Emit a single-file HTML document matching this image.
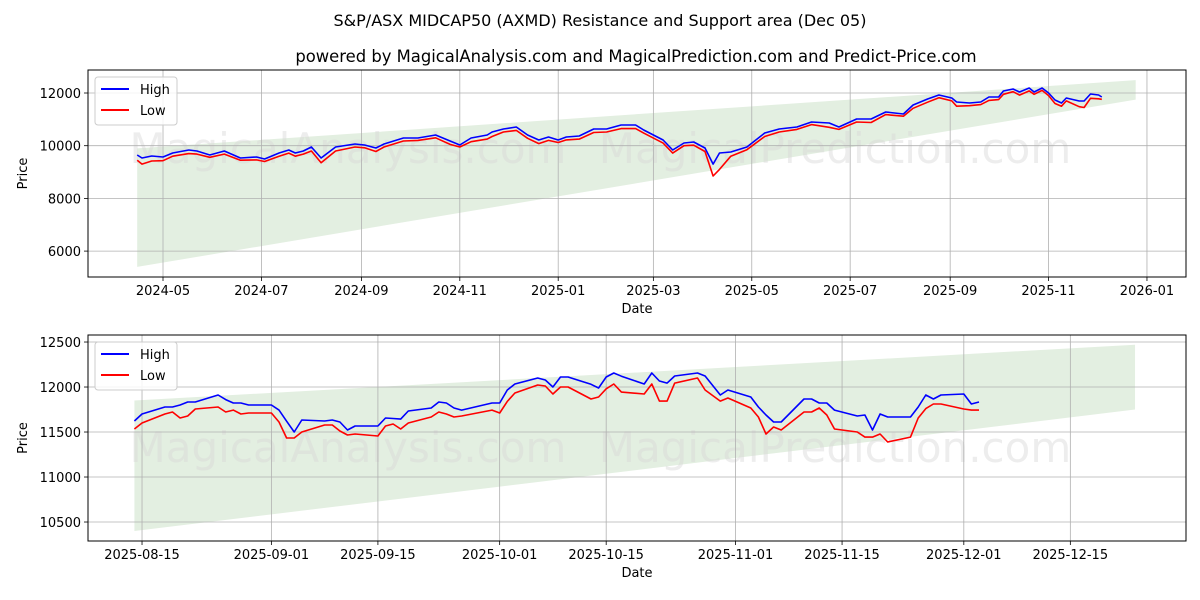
<!DOCTYPE html>
<html><head><meta charset="utf-8"><style>
body{margin:0;background:#fff;}
svg{display:block;font-family:"DejaVu Sans","Liberation Sans",sans-serif;}
</style></head><body>
<svg id="chart" width="1200" height="600" xmlns="http://www.w3.org/2000/svg">
<rect width="1200" height="600" fill="#fff"/>
<text x="600" y="26" text-anchor="middle" font-size="16">S&amp;P/ASX MIDCAP50 (AXMD) Resistance and Support area (Dec 05)</text>
<text x="636" y="62" text-anchor="middle" font-size="16.4">powered by MagicalAnalysis.com and MagicalPrediction.com and Predict-Price.com</text>
<g id="top"></g>
<g id="bot"></g>
</svg>
<script>
// Top panel: day offsets from 2024-05-01
const topDays=[-16,-13,-7,0,6,16,21,29,38,48,58,63,72,78,82,87,92,98,107,119,125,132,137,149,158,169,178,184,191,201,204,211,219,226,233,239,245,250,258,267,275,284,293,298,310,316,323,329,336,341,345,352,362,373,382,393,402,413,419,430,439,448,459,465,474,481,489,492,500,507,512,518,521,527,531,537,540,545,549,553,557,560,568,571,575,580,582];
const topHigh=[9647,9533,9610,9571,9723,9837,9800,9647,9800,9533,9571,9495,9723,9837,9723,9800,9951,9533,9951,10065,10027,9913,10065,10292,10292,10406,10178,10027,10292,10406,10520,10634,10710,10406,10216,10330,10216,10330,10368,10634,10634,10786,10786,10596,10216,9837,10103,10141,9913,9300,9723,9761,9951,10482,10634,10710,10900,10862,10710,11013,11013,11279,11203,11545,11772,11924,11810,11658,11620,11658,11848,11848,12076,12152,12038,12190,12038,12190,12000,11734,11620,11810,11696,11696,11962,11924,11848];
const topLow=[9450,9300,9420,9430,9600,9700,9680,9560,9680,9450,9460,9400,9600,9720,9600,9680,9800,9350,9800,9950,9920,9780,9950,10180,10200,10300,10050,9950,10150,10250,10350,10520,10580,10280,10080,10200,10120,10220,10250,10500,10520,10650,10650,10480,10100,9720,10000,10020,9780,8850,9100,9600,9850,10350,10520,10620,10800,10700,10620,10900,10880,11180,11120,11420,11650,11820,11700,11500,11520,11560,11720,11750,11950,12050,11920,12080,11950,12100,11900,11600,11500,11700,11480,11450,11800,11780,11760];
const topBandDays=[-16,603];
const topBandUpper=[9900,12490];
const topBandLower=[5400,11750];
const topYTicks=[6000,8000,10000,12000];
const topXTickLabels=["2024-05","2024-07","2024-09","2024-11","2025-01","2025-03","2025-05","2025-07","2025-09","2025-11","2026-01"];
// Bottom panel: day offsets from 2025-08-15
const botDays=[-1,0,3,4,5,6,7,10,11,12,13,14,17,18,19,20,21,24,25,26,27,28,31,32,33,34,35,38,39,40,41,42,46,47,48,49,52,53,54,55,56,59,60,61,62,63,66,67,68,69,70,73,74,76,77,80,81,82,83,84,87,88,89,90,91,94,95,96,97,98,101,102,103,104,105,108,109,110];
const botHigh=[11622,11700,11778,11778,11800,11833,11833,11911,11860,11822,11822,11800,11800,11744,11620,11500,11633,11622,11633,11611,11522,11567,11567,11656,11650,11644,11733,11767,11833,11822,11767,11744,11822,11822,11967,12033,12100,12078,12000,12111,12111,12030,11989,12111,12156,12120,12033,12156,12067,12044,12122,12156,12122,11911,11967,11889,11778,11689,11611,11611,11867,11867,11822,11822,11744,11678,11689,11522,11700,11667,11667,11778,11911,11867,11911,11922,11811,11833];
const botLow=[11533,11600,11700,11722,11656,11678,11756,11778,11722,11744,11700,11711,11711,11611,11433,11433,11500,11578,11578,11511,11467,11478,11456,11567,11589,11533,11600,11667,11722,11700,11667,11678,11744,11711,11840,11933,12022,12011,11922,12000,12000,11867,11889,11980,12033,11944,11922,12033,11844,11844,12044,12100,11967,11844,11878,11767,11667,11478,11556,11522,11722,11722,11767,11689,11533,11500,11444,11444,11478,11389,11444,11656,11760,11811,11811,11756,11744,11744];
const botBandDays=[-1,130.5];
const botBandUpper=[11850,12470];
const botBandLower=[10400,11750];
const botYTicks=[10500,11000,11500,12000,12500];
const botXTickLabels=["2025-08-15","2025-09-01","2025-09-15","2025-10-01","2025-10-15","2025-11-01","2025-11-15","2025-12-01","2025-12-15"];

const NS="http://www.w3.org/2000/svg";
function mk(parent,tag,attrs,text){const e=document.createElementNS(NS,tag);for(const k in attrs)e.setAttribute(k,attrs[k]);if(text!==undefined)e.textContent=text;parent.appendChild(e);return e;}
function dayOf(s,base){const p=s.split("-").map(Number);return (Date.UTC(p[0],p[1]-1,p[2]||1)-base)/86400000;}

function panel(g,cfg){
  const L=88,R=1186,T=cfg.top,B=cfg.bottom;
  const sx=d=>L+(d-cfg.d0)/(cfg.d1-cfg.d0)*(R-L);
  const sy=v=>B-(v-cfg.v0)/(cfg.v1-cfg.v0)*(B-T);
  const clipId="clip"+cfg.id;
  const cp=mk(g,"clipPath",{id:clipId});mk(cp,"rect",{x:L,y:T,width:R-L,height:B-T});
  const bd=cfg.bandDays;
  const band=mk(g,"polygon",{points:`${sx(bd[0])},${sy(cfg.bandUpper[0])} ${sx(bd[1])},${sy(cfg.bandUpper[1])} ${sx(bd[1])},${sy(cfg.bandLower[1])} ${sx(bd[0])},${sy(cfg.bandLower[0])}`,fill:"#e3efe1","clip-path":`url(#${clipId})`});
  
  
  const wm1=mk(g,"text",{x:cfg.wmX1,y:cfg.wmY,"text-anchor":"middle","font-size":"42",fill:"#d8d8d8","fill-opacity":"0.45"},"MagicalAnalysis.com");
  
  
  const wm2=mk(g,"text",{x:cfg.wmX2,y:cfg.wmY,"text-anchor":"middle","font-size":"42",fill:"#d8d8d8","fill-opacity":"0.45"},"MagicalPrediction.com");
  
  
  cfg.xTicks.forEach(lbl=>{
    const x=sx(dayOf(lbl,cfg.base));
    const gl=mk(g,"line",{x1:x,x2:x,y1:T,y2:B,stroke:"#b0b0b0","stroke-width":"0.8"});
    
    
    mk(g,"line",{x1:x,x2:x,y1:B,y2:B+4,stroke:"#000","stroke-width":"0.8"});
    const t=mk(g,"text",{x:x,y:B+18,"text-anchor":"middle","font-size":"13"},lbl);
    
    
  });
  cfg.yTicks.forEach(v=>{
    const y=sy(v);
    const gl=mk(g,"line",{x1:L,x2:R,y1:y,y2:y,stroke:"#b0b0b0","stroke-width":"0.8"});
    
    
    mk(g,"line",{x1:L-4,x2:L,y1:y,y2:y,stroke:"#000","stroke-width":"0.8"});
    const t=mk(g,"text",{x:L-7,y:y+5,"text-anchor":"end","font-size":"13"},String(v));
    
    
  });
  const ptsH=cfg.days.map((d,i)=>`${sx(d).toFixed(1)},${sy(cfg.high[i]).toFixed(1)}`).join(" ");
  const ptsL=cfg.days.map((d,i)=>`${sx(d).toFixed(1)},${sy(cfg.low[i]).toFixed(1)}`).join(" ");
  const lh=mk(g,"polyline",{points:ptsH,fill:"none",stroke:"#0000ff","stroke-width":"1.6","stroke-linejoin":"round"});
  
  
  const ll=mk(g,"polyline",{points:ptsL,fill:"none",stroke:"#ff0000","stroke-width":"1.6","stroke-linejoin":"round"});
  
  
  const fr=mk(g,"rect",{x:L,y:T,width:R-L,height:B-T,fill:"none",stroke:"#000","stroke-width":"1"});
  
  
  const xt=mk(g,"text",{x:(L+R)/2,y:B+36,"text-anchor":"middle","font-size":"13"},"Date");
  
  
  const yt=mk(g,"text",{x:0,y:0,"text-anchor":"middle","font-size":"13",transform:`translate(${cfg.yTitleX},${(T+B)/2}) rotate(-90)`},"Price");
  
  
  const lg=mk(g,"g",{});
  
  
  mk(lg,"rect",{x:L+7,y:T+7,width:82,height:48,rx:3,fill:"#fff","fill-opacity":"0.85",stroke:"#ccc"});
  const e1=mk(lg,"g",{});
  
  
  mk(e1,"line",{x1:L+13,x2:L+41,y1:T+19,y2:T+19,stroke:"#0000ff","stroke-width":"2"});
  mk(e1,"text",{x:L+52,y:T+24,"font-size":"13"},"High");
  const e2=mk(lg,"g",{});
  
  
  mk(e2,"line",{x1:L+13,x2:L+41,y1:T+40,y2:T+40,stroke:"#ff0000","stroke-width":"2"});
  mk(e2,"text",{x:L+52,y:T+45,"font-size":"13"},"Low");
}
panel(document.getElementById("top"),{id:"t",top:70,bottom:277,d0:-46.5,d1:634.2,v0:5017,v1:12873,
  base:Date.UTC(2024,4,1),days:topDays,high:topHigh,low:topLow,bandDays:topBandDays,bandUpper:topBandUpper,bandLower:topBandLower,
  xTicks:topXTickLabels,yTicks:topYTicks,wmX1:348,wmX2:835,wmY:163,yTitleX:27});
panel(document.getElementById("bot"),{id:"b",top:335,bottom:541,d0:-7.1,d1:137.2,v0:10289,v1:12578,
  base:Date.UTC(2025,7,15),days:botDays,high:botHigh,low:botLow,bandDays:botBandDays,bandUpper:botBandUpper,bandLower:botBandLower,
  xTicks:botXTickLabels,yTicks:botYTicks,wmX1:348,wmX2:835,wmY:462,yTitleX:27});
</script>
</body></html>
